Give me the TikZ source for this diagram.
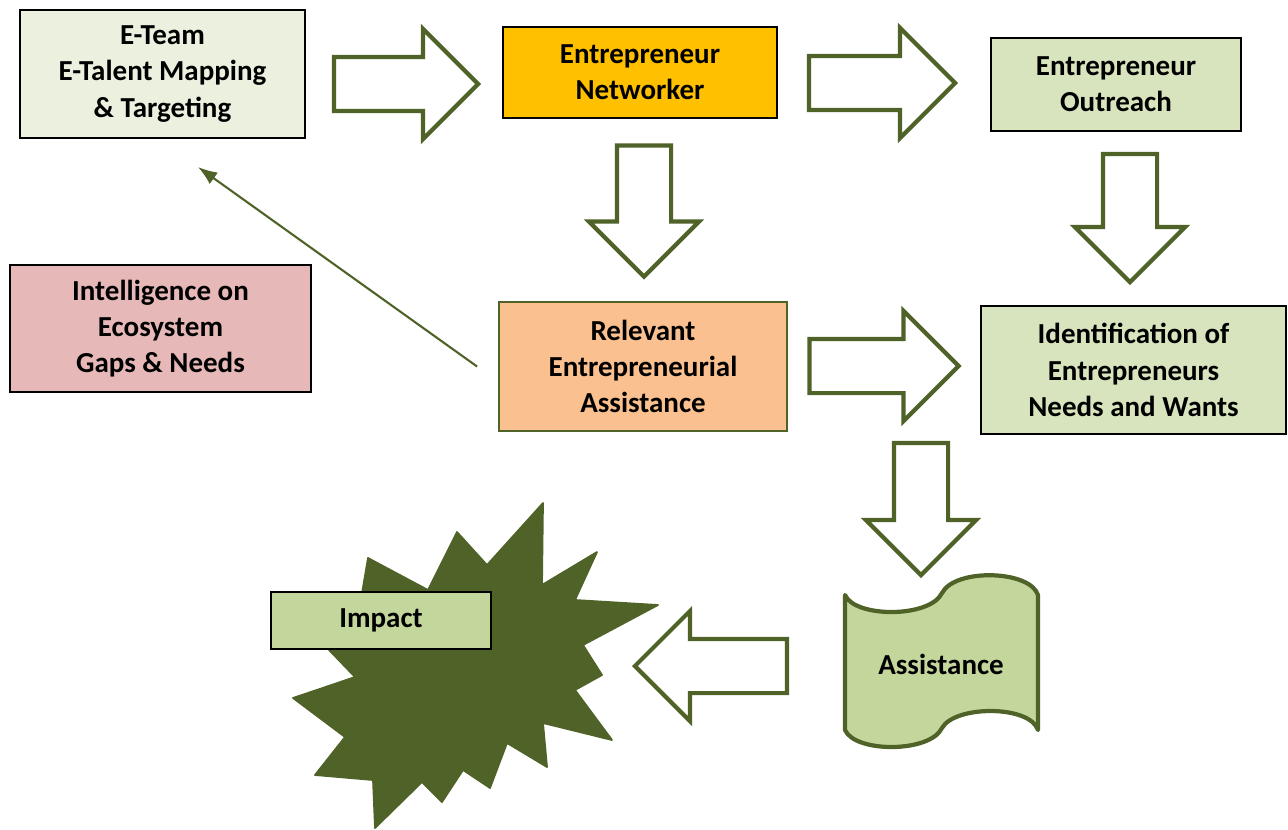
\documentclass[tikz,border=0pt]{standalone}
\usepackage{fontspec}
\setmainfont{Carlito}
\usetikzlibrary{shapes.arrows,arrows.meta}

\definecolor{darkolive}{HTML}{4F6228}
\definecolor{teamfill}{HTML}{EBF1DE}
\definecolor{netfill}{HTML}{FFC000}
\definecolor{paleolive}{HTML}{D7E4BD}
\definecolor{intelfill}{HTML}{E6B9B8}
\definecolor{relfill}{HTML}{FAC090}
\definecolor{impactfill}{HTML}{C3D69B}

\tikzset{
	box/.style={draw=black, line width=1.1pt, align=center, inner sep=2pt},
	blockarrow/.style={single arrow, draw=darkolive, fill=white, line width=2.4pt,
		inner xsep=0pt, inner ysep=0.5cm, single arrow head extend=0.56cm,
		minimum height=#1},
	feedback/.style={draw=darkolive, line width=1.2pt, -{Latex[length=11pt,width=8pt]}}
}

\begin{document}
\begin{tikzpicture}[x=0.02cm, y=-0.02cm]
	\tikzstyle{every node} = [font=\fontsize{16.5}{20.7}\selectfont\bfseries]
	\useasboundingbox (0,0) rectangle (1288,829);
	% boxes
	\node[box, fill=teamfill, minimum width=5.7cm, minimum height=2.56cm] (team) at (162.5,74) {E-Team\\E-Talent Mapping\\\& Targeting};
	\node[box, fill=netfill, minimum width=5.48cm, minimum height=1.82cm] (net) at (640,72.5) {Entrepreneur\\Networker};
	\node[box, fill=paleolive, minimum width=5cm, minimum height=1.86cm] (out) at (1116,84.5) {Entrepreneur\\Outreach};
	\node[box, fill=intelfill, minimum width=6.02cm, minimum height=2.54cm] (intel) at (160.5,328.5) {Intelligence on\\Ecosystem\\Gaps \& Needs};
	\node[box, draw=darkolive, fill=relfill, minimum width=5.76cm, minimum height=2.58cm] (rel) at (643,366.5) {Relevant\\Entrepreneurial\\Assistance};
	\node[box, fill=paleolive, minimum width=6.1cm, minimum height=2.56cm] (ident) at (1133.5,370) {Identification of\\Entrepreneurs\\Needs and Wants};
	% block arrows
	\node[blockarrow=2.88cm] (a1) at (392.5,84) {};
	\node[blockarrow=2.92cm] (a2) at (868.5,83) {};
	\node[blockarrow=2.62cm, rotate=-90] (a3) at (644,197.5) {};
	\node[blockarrow=2.56cm, rotate=-90] (a4) at (1130,204.5) {};
	\node[blockarrow=2.98cm] (a5) at (870.5,366) {};
	\node[blockarrow=2.64cm, rotate=-90] (a6) at (921,495.5) {};
	\node[blockarrow=3.04cm, rotate=180] (a7) at (724.5,666) {};
	% feedback line
	\coordinate (feed) at (198,167);
	\draw[feedback] ([xshift=-0.42cm]rel.west) -- (feed);
	% burst
	\fill[draw=darkolive, line width=1pt, line join=round, fill=darkolive]
		(543,503) -- (542,585) -- (597,552) -- (575,600) -- (658,605) -- (583,645)
		-- (602,675) -- (575,690) -- (612,740) -- (543,723) -- (547,767) -- (507,743)
		-- (490,788) -- (463,770) -- (442,802) -- (422,782) -- (375,828) -- (373,780)
		-- (315,775) -- (345,737) -- (293,698) -- (355,677) -- (305,625) -- (360,605)
		-- (368,558) -- (428,590) -- (457,532) -- (487,565) -- cycle;
	\node[box, fill=impactfill, minimum width=4.4cm, minimum height=1.14cm] (impact) at (381,620.5) {Impact};
	% tape
	\draw[darkolive, fill=impactfill, line width=2.4pt, line join=round]
		(845,595) .. controls (855,618) and (930,618) .. (942,593)
		.. controls (955,568) and (1030,570) .. (1038,595) -- (1038,730)
		.. controls (1030,705) and (955,705) .. (942,728)
		.. controls (930,753) and (855,753) .. (845,730) -- cycle;
	\node (assist) at (941,664) {Assistance};
\end{tikzpicture}
\end{document}
